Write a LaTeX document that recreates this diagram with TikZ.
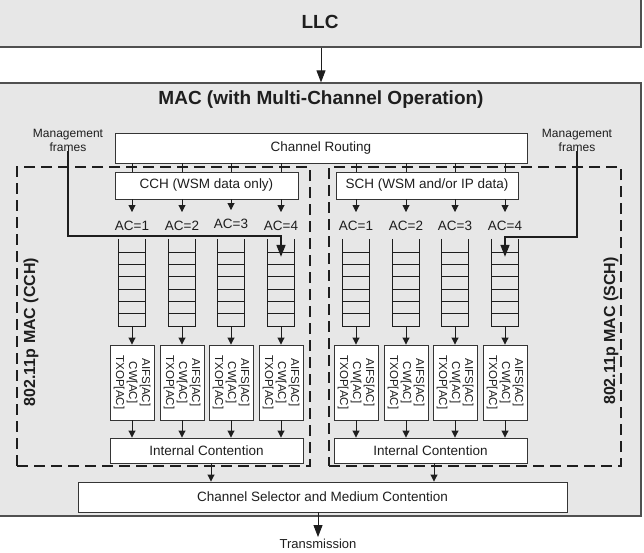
\documentclass[tikz,border=0pt]{standalone}
\usepackage{fontspec}
\setmainfont{Liberation Sans}
\usetikzlibrary{arrows.meta,calc}
\definecolor{layerfill}{HTML}{E7E7E7}
\definecolor{layerdraw}{HTML}{505050}
\definecolor{ink}{HTML}{1E1E1E}
\begin{document}
\begin{tikzpicture}[x=1pt,y=-1pt,
  every node/.style={text=ink},
  layer/.style={draw=layerdraw, fill=layerfill, line width=1.2pt, inner sep=0pt},
  wbox/.style={draw=ink!90, fill=white, line width=0.9pt, inner sep=0pt, font=\fontsize{13.5}{15}\selectfont},
  qbox/.style={inner sep=0pt, minimum width=26, minimum height=87},
  qline/.style={draw=ink, line width=0.9pt},
  conn/.style={draw=ink, line width=0.9pt},
  arr/.style={draw=ink, line width=0.9pt, -{Triangle[length=7pt,width=7pt]}},
  bigarr/.style={draw=ink, line width=0.9pt, -{Triangle[length=12pt,width=9pt]}},
  mgarr/.style={draw=ink, line width=1.6pt, -{Triangle[length=12pt,width=9pt]}},
  dashbox/.style={draw=ink, line width=1.6pt, dash pattern=on 11pt off 6pt, inner sep=0pt},
  aclab/.style={inner sep=0pt, font=\fontsize{13.5}{15}\selectfont},
  mglab/.style={inner sep=0pt, align=center, font=\fontsize{12}{14}\selectfont},
  ptxt/.style={inner sep=0pt, align=center, rotate=-90, font=\fontsize{11.5}{13}\selectfont},
  side/.style={inner sep=0pt, rotate=90, font=\fontsize{16}{18}\bfseries\selectfont},
  title/.style={inner sep=0pt, font=\fontsize{19}{22}\bfseries\selectfont}
]
\useasboundingbox (0,0) rectangle (644,552);

% layers
\node[layer, minimum width=643, minimum height=49] (llc) at (319.5,22.5) {};
\node[title] (llct) at (320,22) {LLC};
\node[layer, minimum width=643, minimum height=433] (mac) at (319.5,299.5) {};
\node[title] (mact) at (321,100) {MAC (with Multi-Channel Operation)};
\draw[bigarr] (llc.south -| mact) -- (mac.north -| mact);

% dashed 802.11p boxes
\node[dashbox, minimum width=293, minimum height=299] (dl) at (163.5,316.5) {};
\node[dashbox, minimum width=292, minimum height=299] (dr) at (475,316.5) {};
\node[side] (sl) at (31,332) {802.11p MAC (CCH)};
\node[side] (sr) at (611,331) {802.11p MAC (SCH)};

% channel routing
\node[wbox, minimum width=412, minimum height=30] (cr) at (321,148) {Channel Routing};
\node[wbox, minimum width=183, minimum height=27] (cch) at (206.5,185.5) {CCH (WSM data only)};
\node[wbox, minimum width=182, minimum height=27] (sch) at (427,185.5) {SCH (WSM and/or IP data)};

% management frames labels
\node[mglab] (mgl) at (68,140) {Management\\frames};
\node[mglab] (mgr) at (577,140) {Management\\frames};

% queues, parameter boxes, AC labels
\foreach \n/\x/\up in {l1/132/cch, l2/182/cch, l3/231/cch, l4/281/cch,
                        r1/356/sch, r2/406/sch, r3/455/sch, r4/505/sch} {
  \node[qbox] (q\n) at (\x,282.5) {};
  \draw[qline] (q\n.north west) -- (q\n.south west) -- (q\n.south east) -- (q\n.north east);
  \foreach \k in {0,...,5} {
    \draw[qline] ($(q\n.west)+(0,{-30.5+\k*12.33})$) -- ($(q\n.east)+(0,{-30.5+\k*12.33})$);
  }
  \node[wbox, minimum width=44, minimum height=75] (p\n) at (\x,382.5) {};
  \node[ptxt] (pt\n) at (p\n.center) {AIFS[AC]\\CW[AC]\\TXOP[AC]};
  \draw[conn] (cr.south -| q\n) -- (\up.north -| q\n);
  \draw[arr] (q\n.south) -- (p\n.north);
}
\node[aclab] (acl1) at (132,226) {AC=1};
\node[aclab] (acl2) at (182,226) {AC=2};
\node[aclab] (acl3) at (231,224) {AC=3};
\node[aclab] (acl4) at (281,226) {AC=4};
\node[aclab] (acr1) at (356,226) {AC=1};
\node[aclab] (acr2) at (406,226) {AC=2};
\node[aclab] (acr3) at (455,226) {AC=3};
\node[aclab] (acr4) at (505,226) {AC=4};
\foreach \n in {l1,l2,l3,l4} { \draw[arr] (cch.south -| q\n) -- ([yshift=9pt]ac\n.north); }
\foreach \n in {r1,r2,r3,r4} { \draw[arr] (sch.south -| q\n) -- ([yshift=9pt]ac\n.north); }

% internal contention
\node[wbox, minimum width=193, minimum height=25] (icl) at (206.5,450.5) {Internal Contention};
\node[wbox, minimum width=193, minimum height=25] (icr) at (430.5,450.5) {Internal Contention};
\foreach \n in {l1,l2,l3,l4} { \draw[arr] (p\n.south) -- (p\n.south |- icl.north); }
\foreach \n in {r1,r2,r3,r4} { \draw[arr] (p\n.south) -- (p\n.south |- icr.north); }

% management frame paths
\draw[mgarr] (mgl.south) |- ($(ql4.north)+(0,-3)$) -- ($(ql4.north)+(0,18)$);
\draw[mgarr] (mgr.south) |- ($(qr4.north)+(0,-2)$) -- ($(qr4.north)+(0,18)$);

% channel selector
\node[wbox, minimum width=489, minimum height=30] (cs) at (322.5,497) {Channel Selector and Medium Contention};
\draw[arr] ([xshift=4.5pt]icl.south) -- ([xshift=4.5pt]icl.south |- cs.north);
\draw[arr] ([xshift=3.5pt]icr.south) -- ([xshift=3.5pt]icr.south |- cs.north);

% transmission
\node[inner sep=0pt, font=\fontsize{13}{15}\selectfont] (tx) at (318,544) {Transmission};
\draw[bigarr] (cs.south -| tx) -- ([yshift=2pt]tx.north);
\end{tikzpicture}
\end{document}
